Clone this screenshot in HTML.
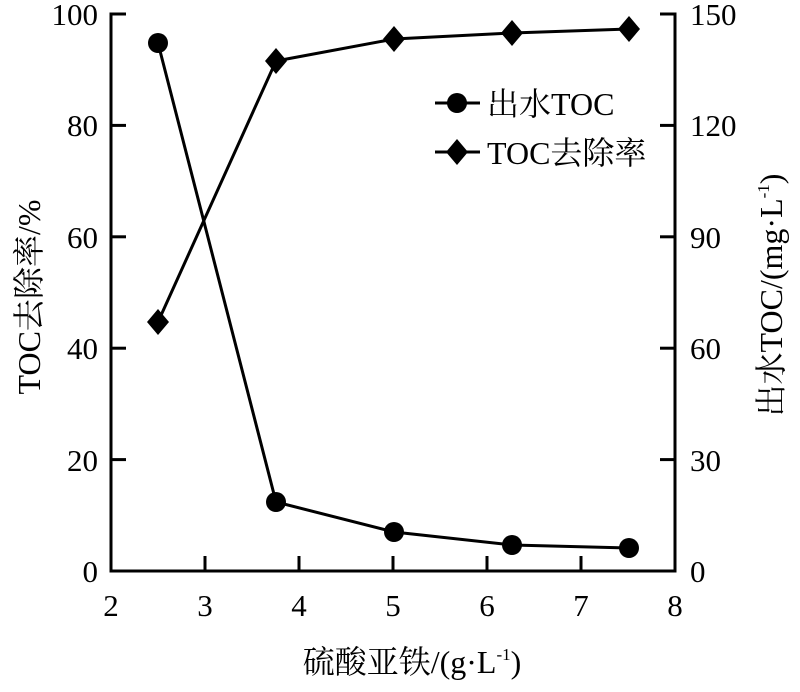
<!DOCTYPE html>
<html><head><meta charset="utf-8"><style>
body{margin:0;background:#fff}
svg text{font-family:"Liberation Serif","Noto Serif CJK SC",serif;fill:#000}
</style></head><body>
<svg width="800" height="687" viewBox="0 0 800 687" xmlns="http://www.w3.org/2000/svg">
<g stroke="#000" stroke-width="3" fill="none">
<polyline points="126,14 111,14 111,571 675,571 675,14 660,14"/>
<line x1="111" y1="125.4" x2="126" y2="125.4"/>
<line x1="111" y1="236.8" x2="126" y2="236.8"/>
<line x1="111" y1="348.2" x2="126" y2="348.2"/>
<line x1="111" y1="459.6" x2="126" y2="459.6"/>
<line x1="675" y1="125.4" x2="660" y2="125.4"/>
<line x1="675" y1="236.8" x2="660" y2="236.8"/>
<line x1="675" y1="348.2" x2="660" y2="348.2"/>
<line x1="675" y1="459.6" x2="660" y2="459.6"/>
<line x1="205" y1="571" x2="205" y2="556"/>
<line x1="299" y1="571" x2="299" y2="556"/>
<line x1="393" y1="571" x2="393" y2="556"/>
<line x1="487" y1="571" x2="487" y2="556"/>
<line x1="581" y1="571" x2="581" y2="556"/>
</g>
<g stroke="#000" stroke-width="3" fill="none">
<polyline points="158,43 276,502 394,532 512,545 629,548"/>
<polyline points="158,322 276,61 394,39 512,33 629,29"/>
<line x1="435" y1="103" x2="480" y2="103"/>
<line x1="435" y1="152" x2="480" y2="152"/>
</g>
<g fill="#000">
<circle cx="158" cy="43" r="10"/><circle cx="276" cy="502" r="10"/><circle cx="394" cy="532" r="10"/><circle cx="512" cy="545" r="10"/><circle cx="629" cy="548" r="10"/>
<circle cx="457" cy="103" r="10"/>
<polygon points="158,309 169,322 158,335 147,322"/>
<polygon points="276,48 287,61 276,74 265,61"/>
<polygon points="394,26 405,39 394,52 383,39"/>
<polygon points="512,20 523,33 512,46 501,33"/>
<polygon points="629,16 640,29 629,42 618,29"/>
<polygon points="457,139 468,152 457,165 446,152"/>
</g>
<g font-size="31" text-anchor="end">
<text x="98" y="25">100</text><text x="98" y="136">80</text><text x="98" y="248">60</text><text x="98" y="359">40</text><text x="98" y="471">20</text><text x="98" y="582">0</text>
</g>
<g font-size="31" text-anchor="start">
<text x="690" y="25">150</text><text x="690" y="136">120</text><text x="690" y="248">90</text><text x="690" y="359">60</text><text x="690" y="471">30</text><text x="690" y="582">0</text>
</g>
<g font-size="31" text-anchor="middle">
<text x="111" y="616">2</text><text x="205" y="616">3</text><text x="299" y="616">4</text><text x="393" y="616">5</text><text x="487" y="616">6</text><text x="581" y="616">7</text><text x="675" y="616">8</text>
</g>
<text x="487" y="115" font-size="32">出水TOC</text>
<text x="487" y="164" font-size="32">TOC去除率</text>
<text x="412" y="673" font-size="32" text-anchor="middle">硫酸亚铁/(g·L<tspan font-size="17" dy="-13">-1</tspan><tspan dy="13">)</tspan></text>
<text transform="translate(40,297) rotate(-90)" font-size="32" text-anchor="middle">TOC去除率/%</text>
<text transform="translate(782,295) rotate(-90)" font-size="32" text-anchor="middle">出水TOC/(mg·L<tspan font-size="17" dy="-13">-1</tspan><tspan dy="13">)</tspan></text>
</svg>
</body></html>
